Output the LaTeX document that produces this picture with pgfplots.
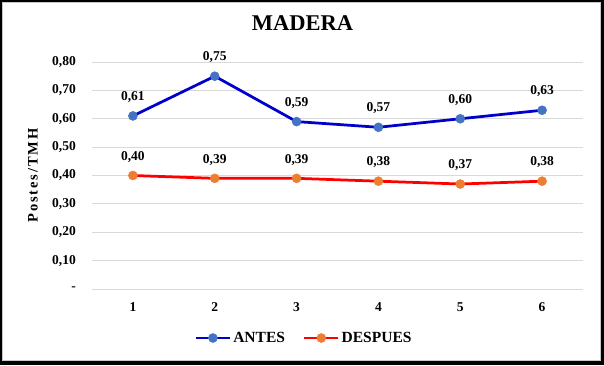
\documentclass[border=0pt]{standalone}
\usepackage{fontspec}
\setmainfont{Liberation Serif}
\usepackage{pgfplots}
\pgfplotsset{compat=1.18}
\definecolor{antesline}{RGB}{0,0,204}
\definecolor{antesmark}{RGB}{68,114,196}
\definecolor{despline}{RGB}{255,0,0}
\definecolor{despmark}{RGB}{237,125,49}
\definecolor{gridc}{RGB}{217,217,217}
\definecolor{framegray}{RGB}{200,200,200}
\begin{document}
\begin{tikzpicture}[x=1pt,y=1pt]
\useasboundingbox (0,0) rectangle (604,365);
\fill[black] (0,0) rectangle (604,365);
\fill[white] (2,4) rectangle (601,363);
\draw[framegray, line width=1pt] (2.5,4.5) rectangle (600.5,362.5);
\begin{axis}[
  at={(92pt,76pt)}, anchor=south west,
  scale only axis, width=491pt, height=227pt,
  xmin=0.5, xmax=6.5, ymin=0, ymax=0.8,
  xtick={1,2,3,4,5,6},
  ytick={0,0.1,0.2,0.3,0.4,0.5,0.6,0.7,0.8},
  yticklabels={{-\hspace{6pt}},{0,10},{0,20},{0,30},{0,40},{0,50},{0,60},{0,70},{0,80}},
  ymajorgrids, grid style={gridc, line width=0.9pt},
  axis line style={draw=none},
  major tick length=0pt,
  tick style={draw=none},
  tick label style={font=\fontsize{13.5}{15}\selectfont\bfseries, inner sep=0pt},
  yticklabel style={anchor=east, xshift=-16pt},
  xticklabel style={anchor=north, yshift=-13pt},
  /pgf/number format/assume math mode=true,
  title={MADERA},
  title style={at={(axis description cs:0.4287,1.143)}, anchor=center, font=\fontsize{22.5}{26}\selectfont\bfseries},
  ylabel={\addfontfeature{LetterSpace=13}Postes/TMH},
  every axis y label/.style={at={(axis description cs:-0.1202,0.5)}, rotate=90, anchor=center, font=\fontsize{14.5}{16}\selectfont\bfseries},
  nodes near coords={\pgfmathprintnumber[fixed,fixed zerofill,precision=2,use comma,assume math mode=true]{\pgfplotspointmeta}},
  every node near coord/.append style={font=\fontsize{13.5}{15}\selectfont\bfseries, black, anchor=south, inner sep=0pt, yshift=13pt},
  legend style={at={(axis description cs:0.4318,-0.2159)}, anchor=center, draw=none, fill=none,
    font=\fontsize{15.5}{17}\selectfont\bfseries, legend columns=2,
    /tikz/every even column/.append style={column sep=16pt}},
  legend cell align=left,
  legend image code/.code={\draw[#1, mark repeat=2, mark phase=2] plot coordinates {(0pt,0pt) (17pt,0pt) (34pt,0pt)};},
]
\addplot[antesline, line width=2.75pt, mark=*, mark size=4.5pt, mark options={draw=antesmark, fill=antesmark, line width=0.5pt, solid}]
  coordinates {(1,0.61) (2,0.75) (3,0.59) (4,0.57) (5,0.60) (6,0.63)};
\addlegendentry{ANTES}
\addplot[despline, line width=2.75pt, mark=*, mark size=4.5pt, mark options={draw=despmark, fill=despmark, line width=0.5pt, solid}]
  coordinates {(1,0.40) (2,0.39) (3,0.39) (4,0.38) (5,0.37) (6,0.38)};
\addlegendentry{DESPUES}
\end{axis}
\end{tikzpicture}
\end{document}
